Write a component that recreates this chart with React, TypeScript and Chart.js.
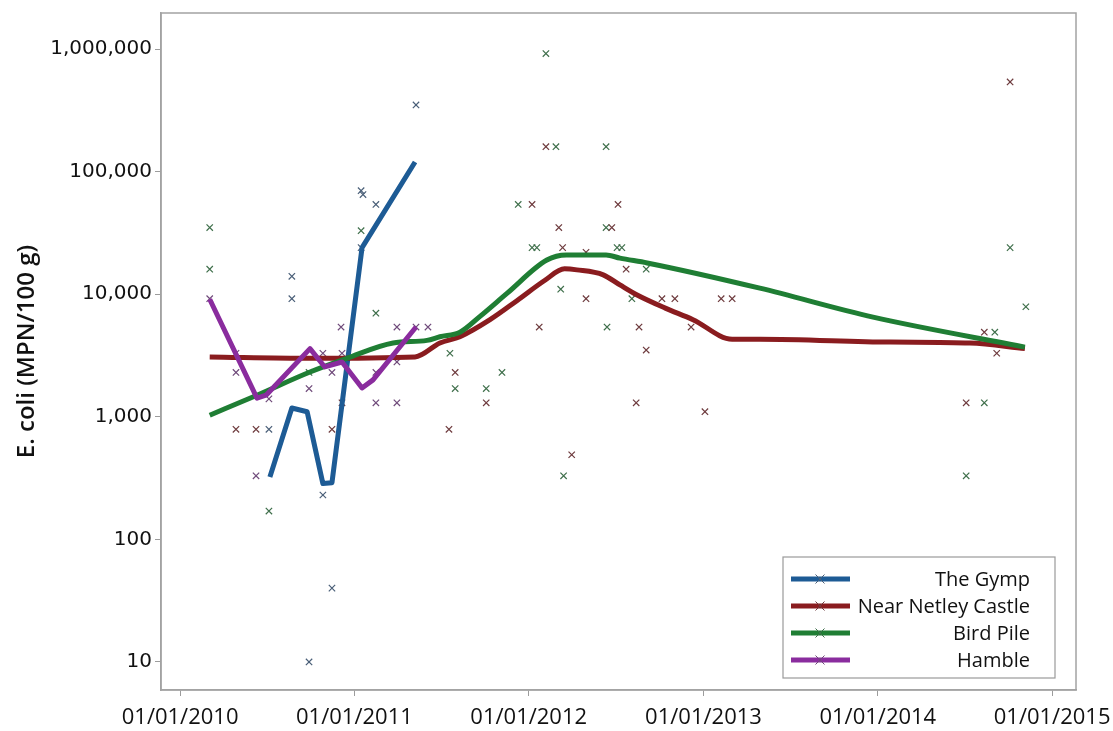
import React, { useEffect, useRef } from "react";
import { Chart, registerables } from "chart.js";

Chart.register(...registerables);

// ---------- series meta ----------
const seriesNames = ["The Gymp", "Near Netley Castle", "Bird Pile", "Hamble"];
const lineColors = ["#1d5b95", "#8a1c1f", "#1f7e34", "#8a2c9e"];
const markerColors = ["#4a5f78", "#6e3b3e", "#3f6f4b", "#6f4a7a"];
const smoothFit = [false, true, true, false];

// ---------- axis ticks ----------
const yTickValues = [10, 100, 1000, 10000, 100000, 1000000];
const xTickYears = [2010, 2011, 2012, 2013, 2014, 2015];
const xRangeStart = "2009-11-22";
const xRangeEnd = "2015-02-20";
const yRangeMin = 5.9;
const yRangeMax = 1970000;

// ---------- observations ----------
const gympDates = [
  "2010-07-06", "2010-08-23", "2010-08-23", "2010-09-28", "2010-10-27",
  "2010-11-15", "2011-01-15", "2011-01-15", "2011-01-19", "2011-02-15", "2011-05-10",
];
const gympValues = [790, 14000, 9200, 10, 230, 40, 70000, 24000, 65000, 54000, 350000];

const netleyDates = [
  "2010-04-28", "2010-06-09", "2010-11-15", "2010-12-06", "2011-07-18", "2011-07-31",
  "2011-10-04", "2012-01-08", "2012-01-23", "2012-02-06", "2012-03-04", "2012-03-12",
  "2012-03-31", "2012-04-30", "2012-04-30", "2012-06-23", "2012-07-06", "2012-07-23",
  "2012-08-13", "2012-08-19", "2012-09-03", "2012-10-06", "2012-11-02", "2012-12-06",
  "2013-01-04", "2013-02-07", "2013-03-02", "2014-07-05", "2014-08-12", "2014-09-07",
  "2014-10-05",
];
const netleyValues = [
  790, 790, 790, 1300, 790, 2300,
  1300, 54000, 5400, 160000, 35000, 24000,
  490, 22000, 9200, 35000, 54000, 16000,
  1300, 5400, 3500, 9200, 9200, 5400,
  1100, 9200, 9200, 1300, 4900, 3300,
  540000,
];

const birdDates = [
  "2010-03-04", "2010-03-04", "2010-07-06", "2010-09-28", "2011-01-15", "2011-02-15",
  "2011-07-20", "2011-07-31", "2011-10-04", "2011-11-06", "2011-12-10", "2012-01-08",
  "2012-01-18", "2012-02-06", "2012-02-27", "2012-03-08", "2012-03-14", "2012-06-11",
  "2012-06-11", "2012-06-13", "2012-07-04", "2012-07-14", "2012-08-04", "2012-09-03",
  "2014-07-05", "2014-08-12", "2014-09-03", "2014-10-05", "2014-11-07",
];
const birdValues = [
  35000, 16000, 170, 2300, 33000, 7000,
  3300, 1700, 1700, 2300, 54000, 24000,
  24000, 920000, 160000, 11000, 330, 160000,
  35000, 5400, 24000, 24000, 9200, 16000,
  330, 1300, 4900, 24000, 7900,
];

const hambleDates = [
  "2010-03-04", "2010-04-28", "2010-04-28", "2010-06-09", "2010-07-06", "2010-09-28",
  "2010-10-27", "2010-11-15", "2010-12-04", "2010-12-06", "2011-02-15", "2011-02-15",
  "2011-03-31", "2011-03-31", "2011-03-31", "2011-05-10", "2011-06-04",
];
const hambleValues = [
  9200, 3300, 2300, 330, 1400, 1700,
  3300, 2300, 5400, 3300, 2300, 1300,
  1300, 2800, 5400, 5400, 5400,
];

// ---------- smoothed fits ----------
const gympFitDates = [
  "2010-07-08", "2010-08-23", "2010-09-24", "2010-10-27", "2010-11-15",
  "2011-01-17", "2011-05-08",
];
const gympFitValues = [323, 1180, 1100, 285, 290, 24000, 120000];

const netleyFitDates = [
  "2010-03-04", "2010-09-30", "2011-05-08", "2011-06-29", "2011-08-10", "2011-10-12",
  "2011-12-08", "2012-02-04", "2012-03-16", "2012-04-11", "2012-06-05", "2012-07-10",
  "2012-08-15", "2012-10-13", "2012-12-10", "2013-03-02", "2013-04-29", "2014-01-27",
  "2014-07-13", "2014-11-05",
];
const netleyFitValues = [
  3080, 3000, 3080, 4000, 4500, 6200,
  8900, 13000, 16100, 15800, 14400, 11900,
  9850, 7700, 6200, 4300, 4300, 4070,
  4000, 3600,
];

const birdFitDates = [
  "2010-03-04", "2010-06-11", "2010-09-30", "2010-12-16", "2011-03-23", "2011-06-02",
  "2011-06-29", "2011-08-10", "2011-09-21", "2011-11-17", "2012-02-08", "2012-03-20",
  "2012-06-11", "2012-07-10", "2012-09-05", "2013-04-29", "2013-12-22", "2014-11-05",
];
const birdFitValues = [
  1030, 1500, 2320, 3000, 4000, 4200,
  4500, 4900, 6600, 10200, 19000, 20900,
  20900, 19700, 18000, 11200, 6500, 3700,
];

const hambleFitDates = [
  "2010-03-04", "2010-06-11", "2010-06-30", "2010-09-30", "2010-10-31", "2010-12-06",
  "2011-01-17", "2011-02-09", "2011-05-10",
];
const hambleFitValues = [9100, 1420, 1500, 3600, 2550, 2800, 1720, 2000, 5400];

// ---------- helpers ----------
const toTime = (s: string) => Date.parse(s + "T00:00:00Z");
const pts = (d: string[], v: number[]) => d.map((s, i) => ({ x: toTime(s), y: v[i] }));

const obsDates = [gympDates, netleyDates, birdDates, hambleDates];
const obsValues = [gympValues, netleyValues, birdValues, hambleValues];
const fitDates = [gympFitDates, netleyFitDates, birdFitDates, hambleFitDates];
const fitValues = [gympFitValues, netleyFitValues, birdFitValues, hambleFitValues];

const framePlugin = {
  id: "frame",
  afterDatasetsDraw(chart: any) {
    const { ctx, chartArea } = chart;
    ctx.save();
    ctx.strokeStyle = "#a3a3a3";
    ctx.lineWidth = 1.5;
    ctx.strokeRect(chartArea.left, chartArea.top, chartArea.right - chartArea.left, chartArea.bottom - chartArea.top);
    ctx.restore();
  },
};

const legendPlugin = {
  id: "customLegend",
  afterDraw(chart: any) {
    const { ctx, chartArea } = chart;
    const boxRight = chartArea.right - 21;
    const boxLeft = boxRight - 272;
    const boxBottom = chartArea.bottom - 12;
    const boxTop = boxBottom - 121;
    ctx.save();
    ctx.fillStyle = "#ffffff";
    ctx.fillRect(boxLeft, boxTop, boxRight - boxLeft, boxBottom - boxTop);
    ctx.strokeStyle = "#9a9a9a";
    ctx.lineWidth = 1.2;
    ctx.strokeRect(boxLeft, boxTop, boxRight - boxLeft, boxBottom - boxTop);
    seriesNames.forEach((name, i) => {
      const y = boxTop + 22 + i * 27;
      ctx.strokeStyle = lineColors[i];
      ctx.lineWidth = 5;
      ctx.beginPath();
      ctx.moveTo(boxLeft + 8, y);
      ctx.lineTo(boxLeft + 67, y);
      ctx.stroke();
      ctx.strokeStyle = markerColors[i];
      ctx.lineWidth = 1;
      const cx = boxLeft + 37;
      const r = 4.5;
      ctx.beginPath();
      ctx.moveTo(cx - r, y - r);
      ctx.lineTo(cx + r, y + r);
      ctx.moveTo(cx + r, y - r);
      ctx.lineTo(cx - r, y + r);
      ctx.stroke();
      ctx.fillStyle = "#111111";
      ctx.font = "20px 'Open Sans'";
      ctx.textAlign = "right";
      ctx.textBaseline = "middle";
      ctx.fillText(name, boxRight - 25, y + 1);
    });
    ctx.restore();
  },
};

export default function App() {
  const canvasRef = useRef<HTMLCanvasElement | null>(null);

  useEffect(() => {
    const canvas = canvasRef.current;
    if (!canvas) return;

    const lineSets = seriesNames.map((name, i) => ({
      label: name,
      data: pts(fitDates[i], fitValues[i]),
      showLine: true,
      borderColor: lineColors[i],
      backgroundColor: lineColors[i],
      borderWidth: 5,
      pointRadius: 0,
      borderJoinStyle: "round" as const,
      tension: 0,
      cubicInterpolationMode: smoothFit[i] ? ("monotone" as const) : ("default" as const),
      order: 4 - i,
    }));
    const pointSets = seriesNames.map((name, i) => ({
      label: name + " data",
      data: pts(obsDates[i], obsValues[i]),
      showLine: false,
      pointStyle: "crossRot" as const,
      pointRadius: 4.5,
      pointBorderWidth: 1.2,
      borderColor: markerColors[i],
      backgroundColor: markerColors[i],
      order: 10,
    }));

    const gridCfg = {
      drawOnChartArea: false,
      drawTicks: true,
      tickLength: 6,
      color: "#9c9c9c",
      lineWidth: 1,
    };

    const chart = new Chart(canvas, {
      type: "scatter",
      data: { datasets: [...pointSets, ...lineSets] as any },
      options: {
        responsive: false,
        animation: false,
        events: [],
        layout: { padding: { left: 0, top: 13, right: 37, bottom: 0 } },
        plugins: {
          legend: { display: false },
          tooltip: { enabled: false },
        },
        scales: {
          x: {
            type: "linear",
            min: toTime(xRangeStart),
            max: toTime(xRangeEnd),
            afterBuildTicks: (s: any) => {
              s.ticks = xTickYears.map((y) => ({ value: Date.UTC(y, 0, 1) }));
            },
            afterFit: (s: any) => {
              s.height = 41;
              s.paddingLeft = 0;
              s.paddingRight = 0;
            },
            ticks: {
              autoSkip: false,
              maxRotation: 0,
              padding: 9,
              color: "#111111",
              font: { family: "'Open Sans'", size: 22 },
              callback: (v: any) => "01/01/" + new Date(Number(v)).getUTCFullYear(),
            },
            grid: gridCfg,
            border: { display: true, color: "#a3a3a3", width: 1.5 },
          },
          y: {
            type: "logarithmic",
            min: yRangeMin,
            max: yRangeMax,
            afterBuildTicks: (s: any) => {
              s.ticks = yTickValues.map((v) => ({ value: v }));
            },
            afterFit: (s: any) => {
              s.width = 161;
              s.paddingTop = 0;
              s.paddingBottom = 0;
            },
            ticks: {
              autoSkip: false,
              padding: 3,
              color: "#111111",
              font: { family: "'DejaVu Sans'", size: 20 },
              callback: (v: any) => Number(v).toLocaleString("en-US"),
            },
            grid: gridCfg,
            border: { display: true, color: "#a3a3a3", width: 1.5 },
            title: {
              display: true,
              text: "E. coli (MPN/100 g)",
              color: "#111111",
              font: { family: "'Open Sans'", size: 24, weight: "600" },
              padding: { top: 13, bottom: 0 },
            },
          },
        },
      },
      plugins: [framePlugin, legendPlugin],
    });

    return () => chart.destroy();
  }, []);

  return (
    <div style={{ position: "absolute", left: 0, top: 0, width: 1113, height: 731, background: "#ffffff" }}>
      <canvas ref={canvasRef} width={1113} height={731} style={{ display: "block" }} />
    </div>
  );
}
